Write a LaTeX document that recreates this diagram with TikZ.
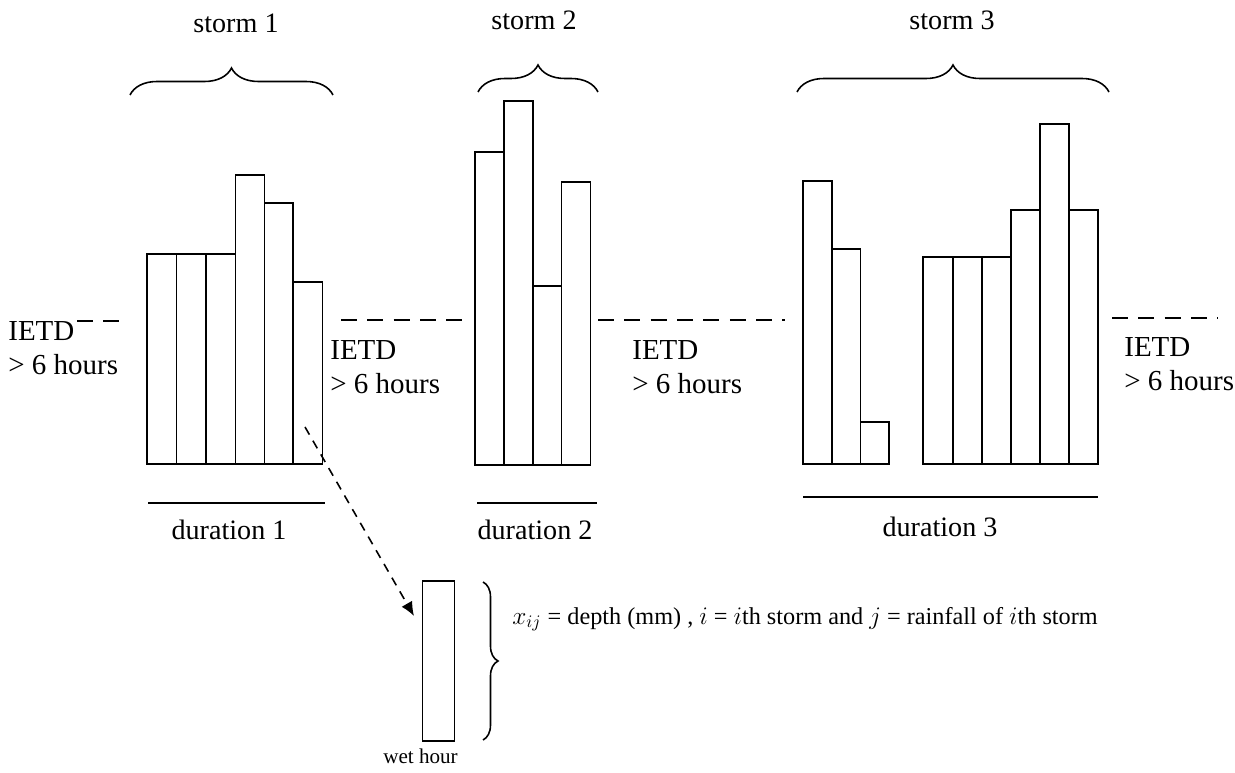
\documentclass[tikz,border=0pt]{standalone}
\usepackage{fontspec}
\setmainfont{Liberation Serif}
\usetikzlibrary{arrows.meta,decorations.pathreplacing,positioning}

\tikzset{
  bar/.style={line width=1.1pt},
  gap/.style={dash pattern=on 9pt off 6pt, line width=1.6pt},
  dur/.style={line width=1.6pt},
  brc/.style={decorate, decoration={brace, amplitude=0.54cm}, line width=0.9pt},
  lbl/.style={font=\fontsize{16}{18}\selectfont, inner sep=0pt},
  ietd/.style={font=\fontsize{16.5}{19.5}\selectfont, align=left, anchor=north west, inner sep=0pt}
}

\begin{document}
\begin{tikzpicture}[x=0.02cm, y=-0.02cm]
\useasboundingbox (0,0) rectangle (1235,773);

\node[lbl, anchor=base] (S1) at (236,33) {storm 1};
\node[lbl, anchor=base] (S2) at (534,30) {storm 2};
\node[lbl, anchor=base] (S3) at (952,30) {storm 3};

\draw[brc] (130,95) -- (333,95);
\draw[brc] (478,92) -- (598,92);
\draw[brc] (797,92) -- (1109,92);

% storm 1
\draw[bar] (147,464) rectangle (176.5,254);
\draw[bar] (176.5,464) rectangle (206,254);
\draw[bar] (206,464) rectangle (235.5,254);
\draw[bar] (235.5,464) rectangle (264.5,175);
\draw[bar] (264.5,464) rectangle (293,203);
\draw[bar] (293,464) rectangle (322.5,282);

% storm 2
\draw[bar] (475,465) rectangle (504,152);
\draw[bar] (504,465) rectangle (533,101);
\draw[bar] (533,465) rectangle (561.5,286);
\draw[bar] (561.5,465) rectangle (590.5,182);

% storm 3
\draw[bar] (803,464) rectangle (832,181);
\draw[bar] (832,464) rectangle (860.5,249);
\draw[bar] (860.5,464) rectangle (889,422);
\draw[bar] (923,464) rectangle (953,257);
\draw[bar] (953,464) rectangle (982,257);
\draw[bar] (982,464) rectangle (1011,257);
\draw[bar] (1011,464) rectangle (1040,210);
\draw[bar] (1040,464) rectangle (1069,124);
\draw[bar] (1069,464) rectangle (1098,210);

\draw[gap] (77,321) -- (122,321);
\draw[gap] (341,320) -- (467,320);
\draw[gap] (598,320) -- (785,320);
\draw[gap] (1112,318) -- (1218,318);

\node[ietd] (G0) at (8,321) {IETD\\> 6 hours};
\node[ietd] (G1) at (330,340) {IETD\\> 6 hours};
\node[ietd] (G2) at (632,340) {IETD\\> 6 hours};
\node[ietd] (G3) at (1124,337) {IETD\\> 6 hours};

\draw[dur] (148,503) -- (325,503);
\draw[dur] (477,503) -- (597,503);
\draw[dur] (803,497) -- (1098,497);

\node[lbl, anchor=base] (D1) at (229,540) {duration 1};
\node[lbl, anchor=base] (D2) at (535,540) {duration 2};
\node[lbl, anchor=base] (D3) at (940,537) {duration 3};

\node[draw, bar, minimum width=0.64cm, minimum height=3.2cm, inner sep=0pt] (W) at (438.5,661) {};
\node[below=4pt of W, xshift=-0.36cm, font=\fontsize{12}{14}\selectfont, inner sep=0pt] (WH) {wet hour};
\draw[decorate, decoration={brace, amplitude=0.3cm}, line width=0.9pt] (483,582) -- (483,740);

\node[anchor=base west, font=\fontsize{13.8}{16}\selectfont, inner sep=0pt] (F) at (512,624) {$x_{ij}$ = depth (mm) , $i$ = $i$th storm and $j$ = rainfall of $i$th storm};

\coordinate (A0) at (305,427);
\coordinate (A1) at (414,616);
\draw[dash pattern=on 5pt off 4pt, line width=0.9pt, -{Latex[length=8pt,width=7pt]}] (A0) -- (A1);

\end{tikzpicture}
\end{document}
